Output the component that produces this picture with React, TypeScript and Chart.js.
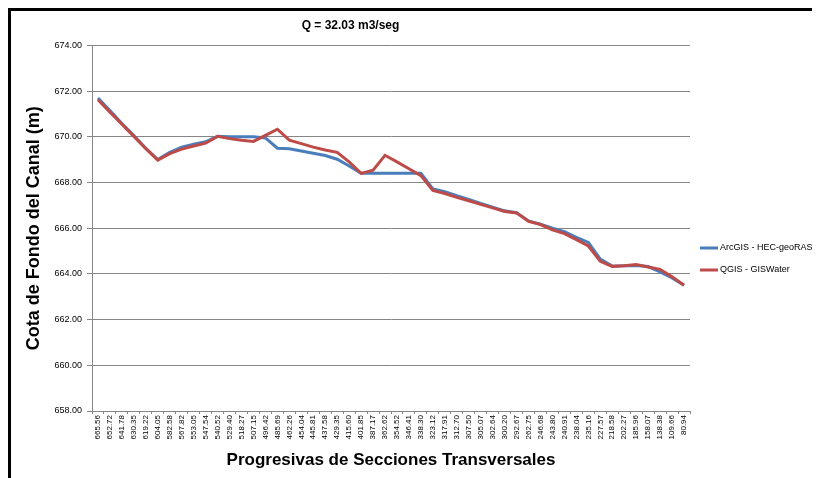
import React, { useEffect, useRef } from "react";
import { Chart, registerables } from "chart.js";

Chart.register(...registerables);

const categories: string[] = [
  "665.56", "652.72", "641.78", "630.35", "619.22", "604.05", "582.58", "567.82", "553.05", "547.54",
  "540.52", "529.40", "518.27", "507.15", "496.42", "485.69", "462.26", "454.04", "445.81", "437.58",
  "429.35", "415.60", "401.85", "387.17", "362.62", "354.52", "346.41", "338.30", "323.12", "317.91",
  "312.70", "307.50", "305.07", "302.64", "300.20", "292.67", "262.75", "246.68", "243.80", "240.91",
  "238.04", "235.16", "227.57", "218.58", "202.27", "185.96", "158.07", "138.38", "109.66", "80.94",
];

const arcgisValues: number[] = [
  671.7, 671.15, 670.58, 670.05, 669.5, 669.0, 669.32, 669.55, 669.68, 669.78,
  670.02, 670.0, 670.0, 670.0, 669.95, 669.5, 669.48, 669.38, 669.28, 669.18,
  669.02, 668.72, 668.4, 668.4, 668.4, 668.4, 668.4, 668.4, 667.72, 667.6,
  667.42, 667.26, 667.08, 666.92, 666.76, 666.68, 666.32, 666.18, 666.0, 665.85,
  665.6, 665.38, 664.65, 664.34, 664.36, 664.37, 664.32, 664.09, 663.82, 663.5,
];

const qgisValues: number[] = [
  671.62, 671.08, 670.55, 670.02, 669.48, 668.98, 669.26, 669.46, 669.6, 669.72,
  670.02, 669.92, 669.85, 669.8, 670.06, 670.33, 669.85, 669.7, 669.55, 669.42,
  669.32, 668.9, 668.4, 668.54, 669.19, 668.9, 668.6, 668.3, 667.65, 667.52,
  667.35, 667.2, 667.04, 666.89, 666.73, 666.67, 666.3, 666.16, 665.93, 665.76,
  665.5, 665.22, 664.55, 664.33, 664.36, 664.41, 664.3, 664.2, 663.87, 663.5,
];

const seriesNames: string[] = ["ArcGIS - HEC-geoRAS", "QGIS - GISWater"];
const seriesColors: string[] = ["#4A7EBB", "#BE4B48"];

const yMin = 658;
const yMax = 674;
const yStep = 2;

const titleText = "Q = 32.03 m3/seg";
const xTitle = "Progresivas de Secciones Transversales";
const yTitle = "Cota de Fondo del Canal (m)";

const FONT = "'Liberation Sans', Arial, sans-serif";

const legendPlugin = {
  id: "customLegend",
  afterDraw(chart: any) {
    const ctx = chart.ctx;
    const area = chart.chartArea;
    const x0 = area.right + 10;
    const yBase = 237;
    ctx.save();
    seriesNames.forEach((name, i) => {
      const y = yBase + i * 22;
      ctx.strokeStyle = seriesColors[i];
      ctx.lineWidth = 3;
      ctx.beginPath();
      ctx.moveTo(x0, y);
      ctx.lineTo(x0 + 18, y);
      ctx.stroke();
      ctx.fillStyle = "#000000";
      ctx.font = `9px ${FONT}`;
      ctx.textAlign = "left";
      ctx.textBaseline = "middle";
      ctx.fillText(name, x0 + 20, y);
    });
    ctx.restore();
  },
};

export default function App() {
  const canvasRef = useRef<HTMLCanvasElement | null>(null);

  useEffect(() => {
    document.documentElement.style.overflow = "hidden";
    const canvas = canvasRef.current;
    if (!canvas) return;
    const chart = new Chart(canvas, {
      type: "line",
      data: {
        labels: categories,
        datasets: [
          {
            label: seriesNames[0],
            data: arcgisValues,
            borderColor: seriesColors[0],
            backgroundColor: seriesColors[0],
            borderWidth: 3,
            pointRadius: 0,
            tension: 0,
            order: 1,
          },
          {
            label: seriesNames[1],
            data: qgisValues,
            borderColor: seriesColors[1],
            backgroundColor: seriesColors[1],
            borderWidth: 3,
            pointRadius: 0,
            tension: 0,
            order: 0,
          },
        ],
      },
      options: {
        responsive: false,
        animation: false,
        layout: { padding: { left: 0, right: 130, top: 0, bottom: 0 } },
        plugins: {
          legend: { display: false },
          tooltip: { enabled: false },
          title: {
            display: true,
            text: titleText,
            color: "#000000",
            font: { family: FONT, size: 12, weight: "bold" },
            padding: { top: 7, bottom: 13 },
          },
        },
        scales: {
          x: {
            type: "category",
            offset: true,
            grid: {
              display: true,
              drawOnChartArea: false,
              drawTicks: true,
              tickLength: 3,
              color: "#868686",
              offset: true,
            },
            border: { display: true, color: "#868686", width: 1 },
            ticks: {
              autoSkip: false,
              maxRotation: 90,
              minRotation: 90,
              padding: 1,
              color: "#000000",
              font: { family: FONT, size: 8 },
            },
            title: {
              display: true,
              text: xTitle,
              color: "#000000",
              font: { family: FONT, size: 17, weight: "bold" },
              padding: { top: 4, bottom: 7 },
            },
            afterFit(scale: any) {
              scale.height = 67;
            },
          },
          y: {
            min: yMin,
            max: yMax,
            grid: {
              display: true,
              color: "#868686",
              tickLength: 5,
            },
            border: { display: true, color: "#868686", width: 1 },
            ticks: {
              stepSize: yStep,
              padding: 5,
              color: "#000000",
              font: { family: FONT, size: 9 },
              callback: (v: any) => Number(v).toFixed(2),
            },
            title: {
              display: true,
              text: yTitle,
              color: "#000000",
              font: { family: FONT, size: 18, weight: "bold" },
              padding: { top: 12, bottom: 4 },
            },
            afterFit(scale: any) {
              scale.width = 81;
            },
          },
        },
      },
      plugins: [legendPlugin],
    });
    return () => chart.destroy();
  }, []);

  return (
    <div style={{ position: "relative", width: 812, height: 470 }}>
      <div
        style={{
          borderTop: "3px solid #000",
          borderLeft: "3px solid #000",
          width: 809,
          height: 467,
          background: "#fff",
        }}
      >
        <canvas ref={canvasRef} width={809} height={467} style={{ display: "block" }} />
      </div>
      <div
        style={{
          position: "absolute",
          left: 808,
          top: 420,
          width: 3,
          height: 60,
          background: "#000",
        }}
      />
    </div>
  );
}
